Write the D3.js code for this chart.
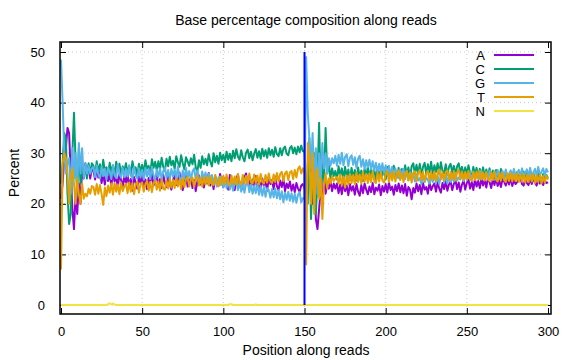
<!DOCTYPE html>
<html><head><meta charset="utf-8">
<script src="https://cdn.jsdelivr.net/npm/d3@7"></script>
<style>body{margin:0;background:#fff}svg{display:block;font-family:"Liberation Sans",Arial,sans-serif}</style>
</head><body><svg id="c" width="576" height="360"></svg>
<script>
const seriesNames = ["A","C","G","T","N"];
const seriesColors = ["#9400d3","#009e73","#56b4e9","#e69f00","#f0e442"];
const xTicks = [0,50,100,150,200,250,300];
const yTicks = [0,10,20,30,40,50];
const markerPosition = 150;

const valuesA = [
21,24,29,31,35,34,26,19,15,22,
18,24,20,27,25,28,26,27.5,25,27,
26.5,24.8,27,25.2,26.3,24.1,25.9,23.8,26.4,24.5,
25.8,23.6,26.2,24.4,25.5,23.2,25.9,24.7,23.4,25.6,
24,25.8,23.3,24.9,22.6,25.3,24.2,23,25.4,24.1,
25.6,23.5,24.8,22.9,25.1,24.3,26,23.6,24.7,25.5,
23.4,24.9,23.1,25.7,24.2,23.3,25.4,24,22.8,24.6,
25.8,23.7,24.5,26.2,23.9,22.7,24.8,25.5,23.4,24.3,
25.2,23.1,24.7,22.5,24.4,25.6,23.8,24.9,23.2,25.3,
24,26.1,23.6,24.8,22.9,25.4,24.2,23.5,25.9,24.1,
23.3,25.1,24.4,22.8,25.7,23.9,24.6,22.7,24.9,25.8,
23.6,24.3,22.9,25.2,26,23.8,24.5,23.1,24.8,23.4,
25.5,23.2,24.6,22.8,25,23.7,24.3,22.6,25.2,23.9,
24.7,22.9,25.4,23.5,22.7,24.6,23.3,24.9,22.5,24,
23.1,24.4,22.6,23.8,22.3,24.1,23,22.4,23.6,23.9,
23,22,26,31,28,20,27,17,15,19,
23,20,26,22,24,23,24.5,22.5,24,23,
24,22.1,23.8,21.9,24.2,22.5,23.6,21.7,23.9,22.6,
23.5,21.8,23.9,22.4,21.6,23.7,22.1,24,22.8,21.9,
23.4,22.3,24.1,21.9,23.2,22.6,23.8,21.7,23.5,22.4,
23.9,22.2,24.2,22.7,23.4,21.8,23.7,22.5,24,22.3,
23.6,22.1,23.9,21.6,23.3,22.8,20.9,23.1,22.2,24,
22.5,23.7,21.9,24.1,22.8,23.3,22,24.2,22.7,23.5,
24,22.4,24.3,23,22.2,24.1,22.9,24.5,22.6,23.8,
24.4,22.7,23.9,24.7,22.9,24.2,22.4,23.8,24.6,22.8,
24.1,24.8,23,24.3,22.7,24.9,23.4,24.5,23.1,25,
23.6,24.7,23.2,25.1,24.3,23.1,24.9,23.7,25,23.5,
24.6,23.3,25,24.4,23.6,24.9,23.8,25.2,23.5,24.7,
23.9,24.3,24.8,25.1,23.9,23.6,25,24.1,23.7,24.9,
23.9,25.1,24.2,23.6,24.8,24,25,23.7,24.6,24.1,
24.3];

const valuesC = [
24,28,34,33,22,16,18,30,38,28,
22,31,24,28,26,27,25,28,26,28,
27.5,25.9,28.4,26.3,27.8,25.6,28.7,26.5,27.2,25.8,
28.1,26.2,27.6,25.5,28.3,26.7,27.9,25.8,27.4,26.4,
28,26.1,27.5,25.6,28.4,26.8,27.2,25.4,27.9,26.3,
27.7,26,28.6,26.9,27.5,25.9,28.8,27.1,28.3,26.6,
28.4,26.8,29.1,27.3,26.5,28.9,27.4,29.3,27.6,28.5,
26.9,29.4,28.2,27.3,29.6,28,26.8,29.2,28.4,27.5,
29,27.8,29.7,27.2,26.3,28.6,27.1,29.4,27.8,28.9,
27.6,29.8,28.3,27.4,30,28.2,29.5,27.9,30.1,28.6,
29.7,28.2,30.3,28.7,29.9,28.4,30.5,29,30.8,29.3,
28.7,30.6,29.2,28.4,30.1,30.7,29,30.3,28.6,29.9,
30.8,29.1,30.4,28.9,30.9,29.4,30.6,29.1,31,29.6,
30.7,29.3,31.2,29.8,29.4,31,29.6,30.9,31.3,29.9,
29.6,31,31.4,30,31.1,29.8,31.3,30.2,31.5,30.4,
30.5,24,20,33,17,26,30,18,25,36,
22,28,24,35,26,28,25,27,25.5,26.5,
24.8,27.4,25.5,27,24.9,27.3,25.3,26.8,24.7,27.1,
25,26.7,24.6,27.2,25.2,26.6,24.5,26.9,25.4,27.3,
24.9,27,25.5,26.7,24.7,27.2,25.1,26.9,25.6,27.1,
24.8,27.3,25.2,26.6,24.9,27.5,25.9,25.2,27.1,24.9,
26.9,25.4,27.6,25.7,27.2,25.1,27.4,28,25.9,27.7,
26,27.9,25.5,27.3,28.1,25.8,27.8,26.2,28.3,25.9,
27.6,26.3,28,25.9,28.2,26.5,26,27.8,25.7,27.3,
27.9,26.2,27.5,25.8,27.4,28,26,27.3,25.6,27.2,
25.9,27.6,26.1,25.4,27.3,25.8,27.1,25.3,26.9,25.6,
27.2,25.3,26.8,25.5,27,25.2,26.6,25,26.7,25.4,
25,26.9,25.3,24.8,26.5,25.2,24.7,26.4,25,26.6,
24.9,26.3,24.7,26.2,25,26.4,24.6,26.1,24.8,26,
24.5,26.1,24.9,24.6,26.2,24.7,24.4,25.9,24.6,25.7,
25.1];

const valuesG = [
48.5,40,30,26,28,29,22,31,25,30,
23,32,26,31,25,28,26,27.5,26,27,
27.2,25.3,27.6,25.8,25,27.4,25.5,26.9,24.8,27.1,
26.4,24.9,27.5,25.7,25.1,27.8,25.9,25.2,27.1,25.3,
26.9,25.4,27.6,25.8,24.9,27.3,25.6,25,27,25.2,
26.7,24.8,27.1,25.4,26.9,24.9,27.3,25.6,24.8,26.8,
25.3,27,24.7,26.5,27.2,25.1,26.7,24.8,26.9,25.4,
26.8,24.9,27.4,25.3,24.3,26.6,24.9,27.1,25.2,26.5,
24.7,26.4,27,24.8,26.6,25.1,24.2,26.4,24.6,26.2,
24.3,26,24.1,25.7,23.8,25.6,23.4,25.2,23.7,25.4,
23.2,25,23.1,24.7,22.8,24.5,22.6,24.3,24.9,22.7,
24.4,22.4,24.1,22.2,23.9,24.6,22.3,23.8,22,23.6,
22.1,23.9,21.8,23.5,21.6,23.3,21.4,23.1,22.7,21.2,
22.9,21.3,23,21.1,22.7,20.9,22.5,20.3,22.2,20.8,
22.4,20.6,22.1,20.4,22,20.2,21.8,22.3,20.3,21.1,
21,49,38,33,27,34,24,31,22,30,
25,32,27,30,26,29,27.5,29,28,29.5,
27.5,29.7,27.9,30.1,27.6,29.3,29.8,27.4,29.1,29.6,
27.7,29.2,27.1,28.9,29.5,27.3,28.8,26.9,28.6,27.2,
28.7,26.8,28.4,26.6,28.1,26.3,27.9,26.4,28,26.1,
27.6,25.9,27.5,25.7,27.3,25.4,27,25.6,25.1,26.8,
25.3,26.9,24.9,26.5,24.7,26.2,24.5,26.1,24.4,25.9,
24.6,25.1,23.9,25.8,24.3,25.2,24.7,24,25.5,24.3,
25.8,24.1,25.6,23.9,25.4,25.9,24.2,25.7,24,25.5,
24.3,25.9,24.4,26.1,24.6,25.2,24.8,26.3,24.5,26,
24.7,25.3,26.1,24.6,26.4,24.8,25.4,26.2,24.9,26.5,
25,25.6,26.3,24.8,26.6,25.1,25.7,26.4,25,26.7,
25.2,25.8,26.5,25.1,26.8,25.3,25.9,26.6,25.2,26.9,
25.4,26,26.7,25.3,27,25.5,26.1,26.8,25.4,27.1,
25.6,26.2,26.9,25.5,27.3,25.7,26.3,27,25.6,26.9,
26.2];

const valuesT = [
7,28,30,29,26,20,25,27,24,20,
25,22,20,24,21,22,21.5,23,22,23.5,
23.3,21.8,23.9,22,23.7,21.9,19.8,23.2,21.5,23.6,
22.2,24,21.8,24.1,22.4,23.8,21.9,24.2,22.5,23.4,
24,22.1,24.2,22.4,24.1,21.9,23.8,24.4,22.2,23.9,
24.2,22.4,23.9,24.5,22.6,24.3,22.3,24.1,24.6,22.8,
24.4,22.6,24.8,23,22.8,24.6,23,24.9,23.2,24.7,
23.1,25,23.4,24.8,22.9,25.1,23.3,24.9,25.3,23.4,
24.8,25.2,23.3,25,25.6,23.6,25.1,23.4,25.4,23.8,
25.2,23.6,25.5,23.9,23.7,25.7,24,23.5,25.4,23.8,
25.5,23.9,25.8,24.1,23.6,25.6,24,25.4,23.7,25.9,
24.2,23.8,25.7,24.1,25.5,23.9,26,24.3,24,25.8,
24.1,25.6,23.8,25.9,24.3,24,25.7,24.2,26,24.4,
24.1,25.8,24.3,26.1,24.4,25.9,26.3,24.5,26,26.4,
24.7,26.2,26.5,24.9,26.7,25.2,26.9,27.4,26,27,
26,8,32,29,20,30,18,26,27,21,
25,17,24,26,23,25,24,25.5,24.5,25,
25.3,24,25.8,23.6,25.4,23.2,25.6,23.8,25.9,24.1,
25.7,23.9,26.2,24.3,25.8,24,26.3,24.4,25.9,24.1,
26,24.3,26.4,24.5,24.1,26.1,24.4,26.3,24.6,24.2,
25.9,26.5,24.3,26.1,24.6,26.4,24.4,26,26.6,24.7,
26.2,24.3,25.9,26.5,24.6,26.2,24.2,26,26.4,24.5,
26.1,26.7,24.7,26.3,24.4,26,26.5,24.6,26.2,24.8,
26.4,24.5,26.1,26.8,24.8,26.3,24.6,26.2,26.6,24.7,
26.3,24.8,26.5,24.6,26.2,26.7,24.9,26.4,24.7,26.3,
24.8,26.5,25,24.6,26.3,24.7,26.4,24.9,26.5,24.8,
26.2,24.6,26.3,24.9,24.5,26.2,24.7,26.4,24.8,24.4,
26.1,24.6,26.2,24.7,24.3,26,24.5,26.1,24.4,25.9,
24.5,26,24.3,25.8,24.4,25.9,24.2,25.7,24.3,25.8,
24.4,25.9,24.1,25.6,24.3,25.8,24,25.5,24.2,25.6,
24.8];

const valuesN = [
0,0,0,0,0,0,0,0,0,0,
0,0,0,0,0,0,0,0,0,0,
0,0,0,0,0,0,0,0,0,0.15,
0.35,0.1,0.3,0.1,0,0,0,0,0,0,
0,0,0,0,0,0,0,0,0,0,
0,0,0,0,0,0,0,0,0,0,
0,0,0,0,0,0,0,0,0,0,
0,0,0,0,0,0,0,0,0,0,
0,0,0,0,0,0,0,0,0,0,
0,0,0,0,0,0,0,0,0,0,
0,0,0,0,0.15,0.15,0,0,0,0,
0,0,0,0,0,0,0,0,0,0,
0.12,0,0,0,0,0,0,0,0,0,
0,0,0,0,0,0,0,0,0,0,
0,0,0,0,0,0,0,0,0,0,
0,0,0,0,0,0,0,0,0,0,
0,0,0,0,0,0,0,0,0,0,
0,0,0,0,0,0,0,0,0,0,
0,0,0,0,0,0,0,0,0,0,
0,0,0,0,0,0,0,0,0,0,
0,0,0,0,0,0,0,0,0,0,
0,0,0,0,0,0,0,0,0,0,
0,0,0,0,0,0,0,0,0,0,
0,0,0,0,0,0,0,0,0,0,
0,0,0,0,0,0,0,0,0,0,
0,0,0,0,0,0,0,0,0,0,
0,0,0,0,0,0,0,0,0,0,
0,0,0,0,0,0,0,0,0,0,
0,0,0,0,0,0,0,0,0,0,
0,0,0,0,0,0,0,0,0,0,
0];

const allValues = [valuesA, valuesC, valuesG, valuesT, valuesN];

const svg = d3.select("#c");
const box = {l:60, r:551, t:42, b:314};
const x = d3.scaleLinear().domain([0,300]).range([61,548]);
const y = d3.scaleLinear().domain([0,50]).range([305,52]);

// grid
const grid = svg.append("g").attr("stroke","#c8c8c8").attr("stroke-width",1).attr("stroke-dasharray","1,3");
xTicks.forEach(t=>{ if(t>0 && t<300) grid.append("line").attr("x1",x(t)).attr("x2",x(t)).attr("y1",box.t).attr("y2",box.b); });
yTicks.forEach(t=>{ grid.append("line").attr("x1",box.l).attr("x2",box.r).attr("y1",y(t)).attr("y2",y(t)); });

// axes (inward ticks, mirrored)
const fs = "13px";
const axB = svg.append("g").attr("transform",`translate(0,${box.b})`).call(d3.axisBottom(x).tickValues(xTicks).tickSize(-6).tickPadding(13));
const axT = svg.append("g").attr("transform",`translate(0,${box.t})`).call(d3.axisTop(x).tickValues(xTicks).tickSize(-6).tickFormat(""));
const axL = svg.append("g").attr("transform",`translate(${box.l},0)`).call(d3.axisLeft(y).tickValues(yTicks).tickSize(-6).tickPadding(15));
const axR = svg.append("g").attr("transform",`translate(${box.r},0)`).call(d3.axisRight(y).tickValues(yTicks).tickSize(-6).tickFormat(""));
[axB,axT,axL,axR].forEach(a=>{ a.select(".domain").remove(); a.selectAll("line").attr("stroke","#000"); a.selectAll("text").attr("font-size",fs).attr("font-family","Liberation Sans, Arial, sans-serif").attr("fill","#000"); });

// data lines
const line = d3.line().x((d,i)=>x(i)).y(d=>y(d));
allValues.forEach((vals,k)=>{
  svg.append("path").datum(vals).attr("d",line).attr("fill","none").attr("stroke",seriesColors[k]).attr("stroke-width",2).attr("stroke-linejoin","round");
});

// marker line at read boundary
svg.append("line").attr("x1",x(markerPosition)).attr("x2",x(markerPosition)).attr("y1",y(0)).attr("y2",y(50)).attr("stroke","#0000ff").attr("stroke-width",2);

// border
svg.append("rect").attr("x",box.l).attr("y",box.t).attr("width",box.r-box.l).attr("height",box.b-box.t).attr("fill","none").attr("stroke","#000").attr("stroke-width",1.5);

// legend
const lg = svg.append("g");
seriesNames.forEach((n,k)=>{
  const yy = 55 + k*14;
  lg.append("text").attr("x",485).attr("y",yy+4.5).attr("text-anchor","end").attr("font-size",fs).text(n);
  lg.append("line").attr("x1",494).attr("x2",534).attr("y1",yy).attr("y2",yy).attr("stroke",seriesColors[k]).attr("stroke-width",2);
});

// titles
svg.append("text").attr("x",306).attr("y",25).attr("text-anchor","middle").attr("font-size","14px").text("Base percentage composition along reads");
svg.append("text").attr("x",306).attr("y",355).attr("text-anchor","middle").attr("font-size","14px").text("Position along reads");
svg.append("text").attr("transform","translate(19,173) rotate(-90)").attr("text-anchor","middle").attr("font-size","14px").text("Percent");
</script></body></html>
